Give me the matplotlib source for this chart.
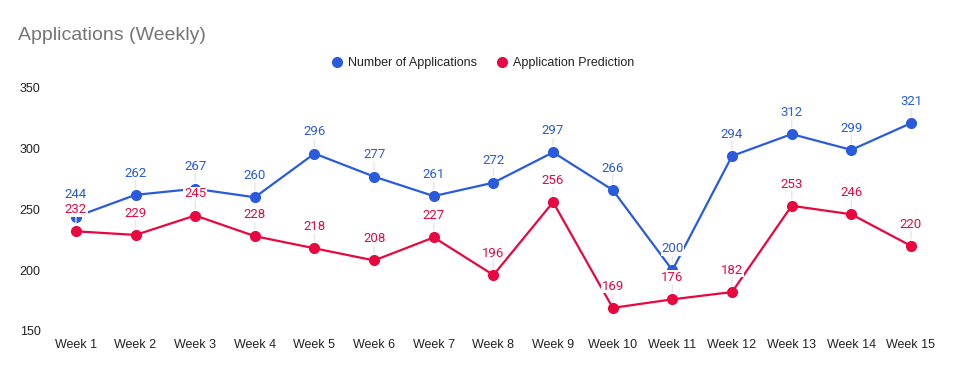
import matplotlib
matplotlib.use("Agg")
import matplotlib.pyplot as plt

plt.rcParams['font.family'] = ['Roboto', 'DejaVu Sans']

weeks = ["Week %d" % i for i in range(1, 16)]
applications = [244, 262, 267, 260, 296, 277, 261, 272, 297, 266, 200, 294, 312, 299, 321]
prediction = [232, 229, 245, 228, 218, 208, 227, 196, 256, 169, 176, 182, 253, 246, 220]

blue = '#2a5bdc'
red = '#e8073e'

fig = plt.figure(figsize=(9.6, 3.71), dpi=100)
ax = fig.add_axes([0.048, 0.108, 0.932, 0.655])

x = list(range(len(weeks)))
series = [(applications, blue, "Number of Applications"),
          (prediction, red, "Application Prediction")]

for vals, col, name in series:
    ax.plot(x, vals, color=col, lw=1.6, marker='o', ms=7, label=name, zorder=3)

# data labels with little leader lines
for vals, col, name in series:
    for xi, v in zip(x, vals):
        ax.annotate(str(v), (xi, v), xytext=(0, 11), textcoords='offset points',
                    ha='center', va='bottom', fontsize=9.5, color=col, zorder=5,
                    bbox=dict(boxstyle='square,pad=0.05', fc='white', ec='none'),
                    arrowprops=dict(arrowstyle='-', color='#e6e6e6', lw=1,
                                    shrinkA=0, shrinkB=5))

ax.set_xlim(-0.5, len(weeks) - 0.5)
ax.set_ylim(150, 350)
ax.set_yticks([150, 200, 250, 300, 350])
ax.set_xticks(x)
ax.set_xticklabels(weeks)
ax.tick_params(length=0, labelsize=9, colors='#222222', pad=6)
ax.tick_params(axis='y', pad=4)
for lab in ax.get_xticklabels() + ax.get_yticklabels():
    lab.set_family(['Liberation Sans', 'DejaVu Sans'])
for s in ax.spines.values():
    s.set_visible(False)

fig.text(0.019, 0.905, "Applications (Weekly)", fontsize=14, color='#757575',
         ha='left', va='center', family=['Liberation Sans', 'DejaVu Sans'])
fig.legend(loc='center', bbox_to_anchor=(0.503, 0.83), ncol=2, frameon=False,
           fontsize=9, handlelength=0.8, handletextpad=0.5, columnspacing=1.6,
           markerscale=1.0, prop={'family': ['Liberation Sans', 'DejaVu Sans'], 'size': 9})
leg = fig.legends[0]
for h in leg.legend_handles:
    h.set_linestyle('none')
for t in leg.get_texts():
    t.set_color('#222222')

fig.savefig("out.png", dpi=100)
